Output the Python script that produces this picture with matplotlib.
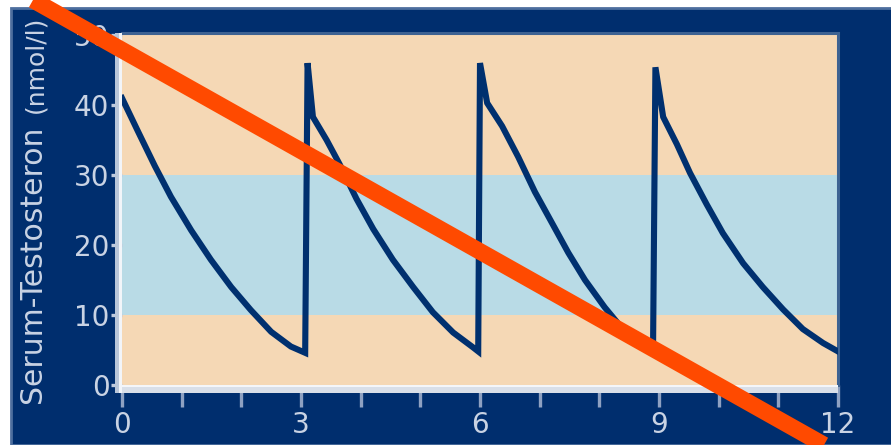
import matplotlib
matplotlib.use("Agg")
import matplotlib.pyplot as plt
from matplotlib.patches import Rectangle
from matplotlib.lines import Line2D

# Serum-Testosteron Verlauf (Injektion alle 3 Monate)
monate = [0.0, 0.27, 0.55, 0.82, 1.16, 1.49, 1.83, 2.16, 2.5, 2.83, 3.07,
          3.11, 3.2, 3.43, 3.65, 3.93, 4.21, 4.54, 4.88, 5.21, 5.55, 5.88, 5.97,
          6.0, 6.12, 6.37, 6.64, 6.92, 7.21, 7.48, 7.76, 8.09, 8.43, 8.76, 8.9,
          8.94, 9.07, 9.3, 9.52, 9.8, 10.07, 10.41, 10.74, 11.08, 11.41, 11.75, 12.0]
testosteron = [41.0, 36.2, 31.3, 26.9, 22.1, 17.9, 14.0, 10.7, 7.6, 5.5, 4.6,
               46.0, 38.3, 35.0, 31.5, 26.6, 22.3, 17.9, 14.0, 10.4, 7.5, 5.4, 4.8,
               46.0, 40.3, 37.0, 32.6, 27.6, 23.1, 18.9, 15.0, 11.1, 7.6, 5.5, 5.0,
               45.4, 38.3, 34.4, 30.3, 25.8, 21.7, 17.4, 14.0, 10.8, 8.0, 6.0, 4.8]

baender = [(0, 10, "#f5d8b5"), (10, 30, "#b9dbe6"), (30, 50.3, "#f5d8b5")]
x_major = [0, 3, 6, 9, 12]
x_minor = list(range(13))
y_ticks = [0, 10, 20, 30, 40, 50]

navy = "#002e6e"
hell = "#c9d3e4"

fig = plt.figure(figsize=(8.91, 4.45), dpi=100, facecolor="white")
fig.patches.append(Rectangle((11/891, 0), 1, 1 - 8/445, transform=fig.transFigure,
                             facecolor=navy, edgecolor="#4d6e9e", lw=2, zorder=0))

ax = fig.add_axes([122/891, 1 - 385/445, 716/891, 352/445])
ax.set_zorder(2)
for lo, hi, c in baender:
    ax.axhspan(lo, hi, color=c, lw=0)
ax.plot(monate, testosteron, color="#00306f", lw=4.4, solid_joinstyle="miter", zorder=3)

ax.set_xlim(0, 12)
ax.set_ylim(0, 50.3)
ax.set_xticks(x_major)
ax.set_xticks(x_minor, minor=True)
ax.set_yticks(y_ticks)
ax.tick_params(axis="x", which="both", length=16, width=2.4, color="#8ea1c2",
               labelcolor=hell, labelsize=20, pad=3)
ax.tick_params(axis="y", length=8, width=2.4, color="#c0cbdd",
               labelcolor=hell, labelsize=20, pad=1)

for s in ["top", "right"]:
    ax.spines[s].set_color("#3d6292")
    ax.spines[s].set_linewidth(2.2)
ax.spines["left"].set_visible(False)
ax.spines["bottom"].set_visible(False)
ax.add_patch(Rectangle((-7/716, -8/352), 7/716, 1 + 8/352, transform=ax.transAxes,
                       facecolor="#b9c6d9", edgecolor="none", clip_on=False, zorder=4))
ax.add_patch(Rectangle((-3/716, -8/352), 3/716, 1 + 8/352, transform=ax.transAxes,
                       facecolor="#f2f5f9", edgecolor="none", clip_on=False, zorder=5))
ax.add_patch(Rectangle((0, -8/352), 1, 8/352, transform=ax.transAxes,
                       facecolor="#d9dfe8", edgecolor="none", clip_on=False, zorder=4))
ax.add_patch(Rectangle((0, -2/352), 1, 2/352, transform=ax.transAxes,
                       facecolor="#f4f6f9", edgecolor="none", clip_on=False, zorder=5))

fig.text(33/891, 1 - 264/445, "Serum-Testosteron", rotation=90, color=hell,
         fontsize=21.5, ha="center", va="center")
fig.text(35/891, 1 - 64/445, "(nmol/l)", rotation=90, color=hell,
         fontsize=18, ha="center", va="center")

# orange Durchstreichung
fig.add_artist(Line2D([33/891, 824/891], [1.0, 0.0], transform=fig.transFigure,
                      color="#ff4a00", lw=12, solid_capstyle="butt", zorder=10))

fig.savefig("out.png", dpi=100, facecolor=fig.get_facecolor())
